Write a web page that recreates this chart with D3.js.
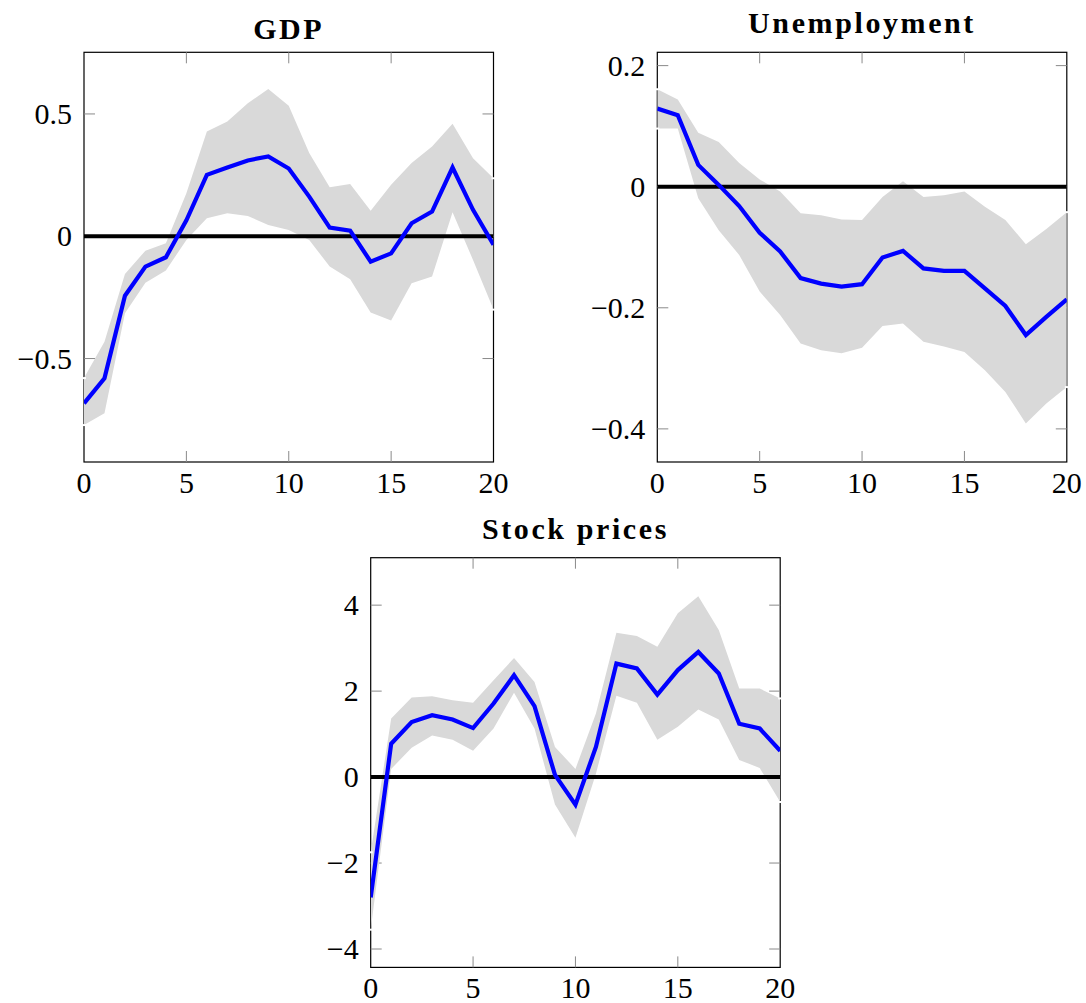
<!DOCTYPE html>
<html>
<head>
<meta charset="utf-8">
<script src="https://cdn.jsdelivr.net/npm/d3@7"></script>
<style>
  body { margin: 0; background: #fff; }
  text { font-family: "Liberation Serif", "Times New Roman", serif; fill: #000; }
</style>
</head>
<body>
<div id="irf"></div>
<script>
// Impulse responses with confidence bands, three panels

var horizon = [0, 1, 2, 3, 4, 5, 6, 7, 8, 9, 10, 11, 12, 13, 14, 15, 16, 17, 18, 19, 20];

var gdpMean  = [-0.683, -0.581, -0.243, -0.124, -0.086, 0.065, 0.251, 0.281, 0.31, 0.326, 0.277,
                0.162, 0.035, 0.023, -0.104, -0.07, 0.053, 0.101, 0.281, 0.108, -0.035];
var gdpUpper = [-0.58, -0.431, -0.154, -0.059, -0.029, 0.176, 0.428, 0.469, 0.544, 0.602, 0.533,
                0.34, 0.2, 0.214, 0.104, 0.21, 0.299, 0.367, 0.46, 0.319, 0.237];
var gdpLower = [-0.772, -0.724, -0.315, -0.19, -0.14, -0.015, 0.074, 0.094, 0.083, 0.046, 0.026,
                -0.015, -0.124, -0.176, -0.312, -0.345, -0.192, -0.165, 0.098, -0.097, -0.3];

var unempMean  = [0.129, 0.118, 0.036, 0.003, -0.032, -0.076, -0.107, -0.151, -0.16, -0.165, -0.161,
                  -0.117, -0.106, -0.135, -0.139, -0.139, -0.168, -0.197, -0.245, -0.215, -0.186];
var unempUpper = [0.161, 0.144, 0.089, 0.074, 0.039, 0.012, -0.008, -0.044, -0.047, -0.054, -0.055,
                  -0.017, 0.009, -0.017, -0.014, -0.008, -0.033, -0.055, -0.095, -0.07, -0.042];
var unempLower = [0.096, 0.096, -0.019, -0.072, -0.113, -0.173, -0.212, -0.259, -0.27, -0.275, -0.266,
                  -0.23, -0.226, -0.256, -0.264, -0.273, -0.303, -0.339, -0.391, -0.358, -0.331];

var stockMean  = [-2.8, 0.777, 1.28, 1.44, 1.34, 1.14, 1.71, 2.37, 1.65, 0.05, -0.64,
                  0.7, 2.64, 2.53, 1.92, 2.49, 2.91, 2.41, 1.24, 1.13, 0.61];
var stockUpper = [-1.75, 1.36, 1.85, 1.88, 1.79, 1.73, 2.25, 2.77, 2.21, 0.7, 0.19,
                  1.48, 3.36, 3.28, 3.03, 3.81, 4.21, 3.42, 2.06, 2.06, 1.83];
var stockLower = [-3.55, 0.19, 0.68, 0.97, 0.87, 0.61, 1.13, 1.96, 1.13, -0.64, -1.41,
                  0.08, 1.89, 1.73, 0.87, 1.17, 1.57, 1.34, 0.4, 0.21, -0.58];

var xTicks = [0, 5, 10, 15, 20];
var gdpTicks = [-0.5, 0, 0.5];
var unempTicks = [-0.4, -0.2, 0, 0.2];
var stockTicks = [-4, -2, 0, 2, 4];

var panels = [
  { title: "GDP", mean: gdpMean, upper: gdpUpper, lower: gdpLower, yTicks: gdpTicks,
    yDomain: [-0.923, 0.752], left: 84, top: 52.3, titleY: 39.3 },
  { title: "Unemployment", mean: unempMean, upper: unempUpper, lower: unempLower, yTicks: unempTicks,
    yDomain: [-0.4547, 0.222], left: 657.3, top: 52.3, titleY: 33.3 },
  { title: "Stock prices", mean: stockMean, upper: stockUpper, lower: stockLower, yTicks: stockTicks,
    yDomain: [-4.428, 5.104], left: 370.7, top: 557.7, titleY: 539.3 }
];

var plotW = 409.5, plotH = 409.7;
var tickLen = 11;

var fmt = function(v) { return (v < 0 ? "\u2212" : "") + Math.abs(v); };

var svg = d3.select("#irf").append("svg")
    .attr("width", 1086)
    .attr("height", 1003);

panels.forEach(function(p, pi) {
  var x = d3.scaleLinear().domain([0, 20]).range([0, plotW]);
  var y = d3.scaleLinear().domain(p.yDomain).range([plotH, 0]);

  var g = svg.append("g")
      .attr("transform", "translate(" + p.left + "," + p.top + ")");

  g.append("defs").append("clipPath")
      .attr("id", "clip" + pi)
    .append("rect")
      .attr("width", plotW)
      .attr("height", plotH);

  // frame
  g.append("rect")
      .attr("width", plotW)
      .attr("height", plotH)
      .style("fill", "none")
      .style("stroke", "#000")
      .style("stroke-width", 1.2);

  // inner ticks on all four sides
  var ticks = g.append("g").style("stroke", "#8a8a8a").style("stroke-width", 1);
  xTicks.filter(function(t) { return t > 0 && t < 20; }).forEach(function(t) {
    ticks.append("line").attr("x1", x(t)).attr("x2", x(t)).attr("y1", plotH).attr("y2", plotH - tickLen);
    ticks.append("line").attr("x1", x(t)).attr("x2", x(t)).attr("y1", 0).attr("y2", tickLen);
  });
  p.yTicks.forEach(function(t) {
    ticks.append("line").attr("x1", 0).attr("x2", tickLen).attr("y1", y(t)).attr("y2", y(t));
    ticks.append("line").attr("x1", plotW).attr("x2", plotW - tickLen).attr("y1", y(t)).attr("y2", y(t));
  });

  // tick labels
  g.selectAll(".xlab")
    .data(xTicks)
    .enter().append("text")
      .attr("x", function(d) { return x(d); })
      .attr("y", plotH + 31)
      .attr("text-anchor", "middle")
      .style("font-size", "30px")
      .text(function(d) { return d; });

  g.selectAll(".ylab")
    .data(p.yTicks)
    .enter().append("text")
      .attr("x", -12)
      .attr("y", function(d) { return y(d) + 10; })
      .attr("text-anchor", "end")
      .style("font-size", "30px")
      .text(fmt);

  var plot = g.append("g").attr("clip-path", "url(#clip" + pi + ")");

  // confidence band
  var area = d3.area()
      .x(function(d, i) { return x(horizon[i]); })
      .y0(function(d, i) { return y(p.lower[i]); })
      .y1(function(d, i) { return y(p.upper[i]); });

  plot.append("path")
      .datum(p.mean)
      .attr("d", area)
      .style("fill", "#d9d9d9");

  // zero line
  plot.append("line")
      .attr("x1", 0)
      .attr("x2", plotW)
      .attr("y1", y(0))
      .attr("y2", y(0))
      .style("stroke", "#000")
      .style("stroke-width", 4);

  // point estimate
  var line = d3.line()
      .x(function(d, i) { return x(horizon[i]); })
      .y(function(d) { return y(d); });

  plot.append("path")
      .datum(p.mean)
      .attr("d", line)
      .style("fill", "none")
      .style("stroke", "#0000ff")
      .style("stroke-width", 4.2)
      .style("stroke-linejoin", "miter");

  // small white notches where the band meets the frame
  var ends = [[0, p.upper[0]], [0, p.lower[0]], [20, p.upper[20]], [20, p.lower[20]]];
  g.selectAll(".notch")
    .data(ends)
    .enter().append("rect")
      .attr("x", function(d) { return x(d[0]) - 2; })
      .attr("y", function(d) { return y(d[1]) - 1; })
      .attr("width", 4)
      .attr("height", 2)
      .style("fill", "#fff");

  // title
  svg.append("text")
      .attr("x", p.left + plotW / 2)
      .attr("y", p.titleY)
      .attr("text-anchor", "middle")
      .style("font-size", "30px")
      .style("font-weight", "bold")
      .style("letter-spacing", "2.6px")
      .text(p.title);
});
</script>
</body>
</html>
